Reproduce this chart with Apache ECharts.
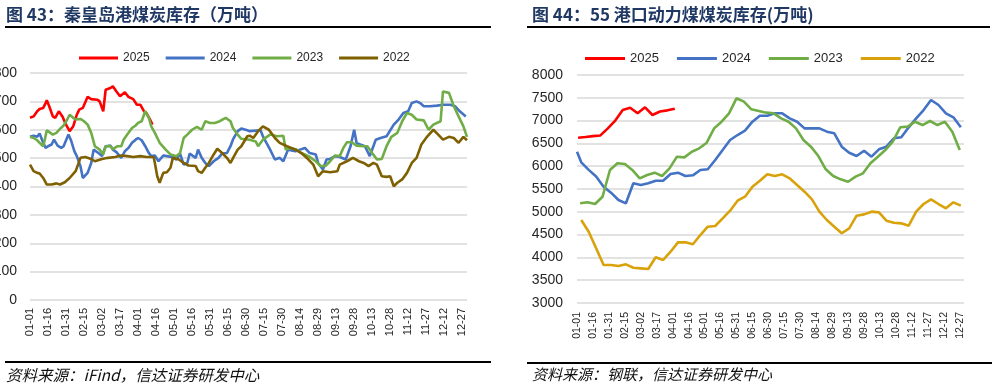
<!DOCTYPE html>
<html><head><meta charset="utf-8">
<script src="https://cdn.jsdelivr.net/npm/echarts@6/dist/echarts.min.js"></script>
<style>html,body{margin:0;padding:0;background:#fff}#c{width:995px;height:388px}</style>
</head><body><div id="c"></div>
<script>
// ---- category axis: day-of-year labels (MM-DD) ----
const monthLengths = [31,28,31,30,31,30,31,31,30,31,30,31];
const dayLabels = [];
monthLengths.forEach((n, m) => { for (let d = 1; d <= n; d++) dayLabels.push(String(m+1).padStart(2,'0') + '-' + String(d).padStart(2,'0')); });

const seriesYears = ['2025','2024','2023','2022'];

// ---- 图43 秦皇岛港煤炭库存（万吨）: day-of-year index + value ----
const qhd2025Days = [0,3,6,8,11,13,14,16,19,21,24,27,30,33,36,39,41,44,48,51,56,58,61,63,67,69,72,75,79,82,86,89,92,95,97,100,102];
const qhd2025Vals = [642,647,665,673,677,694,704,683,647,642,665,647,618,595,612,653,671,677,716,708,706,700,665,741,747,753,735,718,732,716,708,688,688,665,659,636,618];

const qhd2024Days = [0,3,6,8,10,13,15,18,20,23,26,28,32,34,37,39,42,44,48,51,53,57,60,63,67,69,72,76,79,82,85,88,90,93,96,99,101,104,107,111,114,118,122,125,128,131,133,138,140,143,146,149,153,157,160,164,167,169,173,176,181,183,192,194,200,204,208,211,215,221,225,229,233,238,240,244,247,250,254,258,263,267,270,272,275,279,283,288,292,297,303,307,311,315,318,322,325,328,333,339,344,350,354,358,363];
const qhd2024Vals = [575,579,575,587,565,536,542,548,565,544,536,542,583,565,524,507,472,430,448,483,530,518,507,542,544,530,521,501,524,536,554,565,571,563,542,518,507,509,489,509,507,504,495,516,477,483,516,501,530,501,483,472,489,501,516,518,542,565,595,604,598,595,598,577,530,495,501,489,530,524,530,536,518,513,483,460,495,497,507,504,495,542,600,554,548,542,507,565,571,577,618,636,659,665,694,700,694,683,683,685,688,688,683,665,647];

const qhd2023Days = [0,3,6,8,11,12,14,17,19,22,25,28,31,33,36,38,42,45,48,51,54,58,61,63,67,69,73,76,78,81,85,88,90,93,96,99,101,104,108,113,117,122,125,128,131,135,139,143,146,150,154,158,163,167,169,173,176,183,188,190,194,200,206,211,213,217,222,226,232,238,242,246,250,254,258,261,264,268,272,278,281,285,289,293,297,301,306,310,314,318,322,328,332,336,342,344,349,353,357,361,364];
const qhd2023Vals = [575,571,563,554,542,559,598,589,583,589,603,615,636,653,642,636,638,630,618,589,542,530,513,542,542,532,542,542,565,583,606,615,624,630,665,642,612,589,554,530,513,507,518,571,583,600,610,600,630,624,624,630,642,630,606,583,568,565,559,542,565,583,577,579,530,536,530,518,507,489,472,472,489,509,507,536,556,556,544,542,542,518,495,497,542,575,589,630,659,653,636,633,600,618,630,735,730,683,647,612,575];

const qhd2022Days = [0,3,6,8,11,14,18,22,25,26,29,33,38,40,42,46,51,54,60,65,71,76,81,86,92,97,103,104,106,108,111,114,117,119,124,128,132,138,140,143,146,149,153,156,160,164,167,170,173,176,181,183,186,190,194,199,204,208,214,221,226,232,236,240,244,250,256,258,264,269,274,278,282,286,289,293,297,300,303,306,310,314,318,322,326,331,336,340,344,349,353,357,361,364];
const qhd2022Vals = [477,454,448,446,430,407,407,411,407,401,415,430,454,477,501,504,497,489,497,501,504,509,507,504,507,504,504,483,436,413,448,450,466,501,495,483,474,472,454,448,466,483,513,533,518,501,483,507,530,542,577,579,571,595,612,600,571,554,542,530,518,495,477,436,454,450,454,477,489,501,489,483,472,483,477,436,434,436,401,413,425,448,483,501,548,577,600,583,565,575,571,554,575,563];

// ---- 图44 55港口动力煤煤炭库存(万吨): weekly, day-of-year index + value ----
const port2025Days = [1,8,15,22,29,36,43,50,57,64,71,78,85,92];
const port2025Vals = [6625,6640,6660,6675,6830,7000,7232,7283,7160,7291,7123,7200,7225,7262];

const port2024Days = [0,4,11,18,25,32,39,46,53,60,67,74,81,88,95,102,109,116,123,130,137,144,151,158,165,172,179,186,193,200,207,214,221,228,235,242,249,256,263,270,277,284,291,298,305,312,319,326,333,340,347,354,361];
const port2024Vals = [6318,6085,5920,5775,5550,5420,5259,5186,5625,5588,5625,5682,5682,5829,5858,5785,5800,5917,5932,6136,6355,6575,6684,6779,6976,7108,7108,7160,7160,7050,6976,6830,6830,6830,6757,6721,6428,6296,6223,6340,6209,6370,6428,6612,6633,6853,7050,7232,7452,7342,7160,7072,6853];

const port2023Days = [3,10,17,24,31,38,45,52,59,66,73,80,87,94,101,108,115,122,129,136,143,150,157,164,171,178,185,192,199,206,213,220,227,234,241,248,255,262,269,276,283,290,297,304,311,318,325,332,339,346,353,360];
const port2023Vals = [5186,5210,5170,5330,5917,6063,6048,5917,5734,5807,5858,5785,5953,6209,6194,6318,6392,6516,6830,6976,7160,7489,7415,7247,7211,7174,7160,7050,6976,6830,6575,6428,6223,5932,5785,5712,5660,5770,5844,6063,6209,6355,6538,6853,6867,6976,6903,6991,6903,6976,6757,6355];

const port2022Days = [4,11,18,25,32,39,46,53,60,67,74,81,88,95,102,109,116,123,130,137,144,151,158,165,172,179,186,193,200,207,214,221,228,235,242,249,256,263,270,277,284,291,298,305,312,319,326,333,340,347,354,361];
const port2022Vals = [4820,4564,4200,3833,3833,3811,3848,3774,3760,3745,4002,3943,4125,4330,4330,4287,4491,4673,4689,4857,5024,5243,5331,5551,5682,5822,5785,5822,5734,5588,5441,5274,5003,4820,4673,4529,4638,4915,4944,5003,4988,4805,4761,4747,4695,5003,5171,5274,5171,5076,5208,5134];

const qhdColors = ['#ff0000','#4472c4','#70ad47','#7f6000'];
const portColors = ['#ff0000','#4472c4','#70ad47','#d9a20b'];

function pairs(days, vals){ return days.map((d,i)=>[dayLabels[d], vals[i]]); }

const qhdData = [pairs(qhd2025Days,qhd2025Vals),pairs(qhd2024Days,qhd2024Vals),pairs(qhd2023Days,qhd2023Vals),pairs(qhd2022Days,qhd2022Vals)];
const portData = [pairs(port2025Days,port2025Vals),pairs(port2024Days,port2024Vals),pairs(port2023Days,port2023Vals),pairs(port2022Days,port2022Vals)];

const NUM = 'Liberation Sans, Arial, sans-serif';
const CJK = '"Noto Sans CJK SC", sans-serif';
const gridColor = '#d9d9d9';

const chart = echarts.init(document.getElementById('c'), null, {renderer:'canvas'});

const series = [];
seriesYears.forEach((y,i)=>{
  series.push({name:'A'+y, type:'line', xAxisIndex:0, yAxisIndex:0, data:qhdData[i], showSymbol:false, symbol:'none',
    lineStyle:{width:2.6,color:qhdColors[i]}, itemStyle:{color:qhdColors[i]}, z:2+i});
});
seriesYears.forEach((y,i)=>{
  series.push({name:'B'+y, type:'line', xAxisIndex:1, yAxisIndex:1, data:portData[i], showSymbol:false, symbol:'none',
    lineStyle:{width:2.6,color:portColors[i]}, itemStyle:{color:portColors[i]}, z:2+i});
});

function xAxisCfg(gridIndex, fs, margin){
  return {type:'category', gridIndex, data:dayLabels, boundaryGap:false,
    axisLine:{show:false}, axisTick:{show:false}, splitLine:{show:false},
    axisLabel:{interval:14, rotate:90, fontSize:fs, color:'#262626', fontFamily:NUM, margin}};
}
function yAxisCfg(gridIndex, min, max, interval, margin){
  return {type:'value', gridIndex, min, max, interval,
    axisLine:{show:false}, axisTick:{show:false},
    splitLine:{lineStyle:{color:gridColor,width:1.5}},
    axisLabel:{fontSize:14, color:'#262626', fontFamily:NUM, margin, formatter:v=>String(v)}};
}

const lineStyle = {stroke:'#000', lineWidth:2};

chart.setOption({
  animation:false,
  grid:[
    {left:30, right:528, top:73, bottom:88, containLabel:false, outerBoundsMode:'none'},
    {left:577, right:31, top:75, bottom:85, containLabel:false, outerBoundsMode:'none'}
  ],
  xAxis:[xAxisCfg(0,11,8), xAxisCfg(1,10.5,9)],
  yAxis:[yAxisCfg(0,0,800,100,13), yAxisCfg(1,3000,8000,500,14)],
  legend:[
    {data:seriesYears.map(y=>'A'+y), left:74, top:47, icon:'rect', itemWidth:39, itemHeight:3, itemGap:16,
     formatter:n=>n.slice(1), textStyle:{fontSize:12, color:'#262626', fontFamily:NUM}},
    {data:seriesYears.map(y=>'B'+y), left:580, top:47, icon:'rect', itemWidth:40, itemHeight:3, itemGap:18,
     formatter:n=>n.slice(1), textStyle:{fontSize:13, color:'#262626', fontFamily:NUM}}
  ],
  graphic:[
    {type:'text', x:6, y:6, style:{text:'图 43：秦皇岛港煤炭库存（万吨）', fill:'#1f3864', font:'bold 17px '+CJK}},
    {type:'text', x:532, y:6, style:{text:'图 44：55 港口动力煤煤炭库存(万吨)', fill:'#1f3864', font:'bold 17px '+CJK}},
    {type:'line', shape:{x1:5,y1:27,x2:491,y2:27}, style:lineStyle},
    {type:'line', shape:{x1:527,y1:27,x2:990,y2:27}, style:lineStyle},
    {type:'line', shape:{x1:5,y1:362,x2:491,y2:362}, style:lineStyle},
    {type:'line', shape:{x1:527,y1:363,x2:992,y2:363}, style:lineStyle},
    {type:'text', x:6, y:367, style:{text:'资料来源：iFind，信达证券研发中心', fill:'#111', font:'italic 15.5px '+CJK}},
    {type:'text', x:532, y:367, style:{text:'资料来源：钢联，信达证券研发中心', fill:'#111', font:'italic 15px '+CJK}}
  ],
  series
});
</script></body></html>
